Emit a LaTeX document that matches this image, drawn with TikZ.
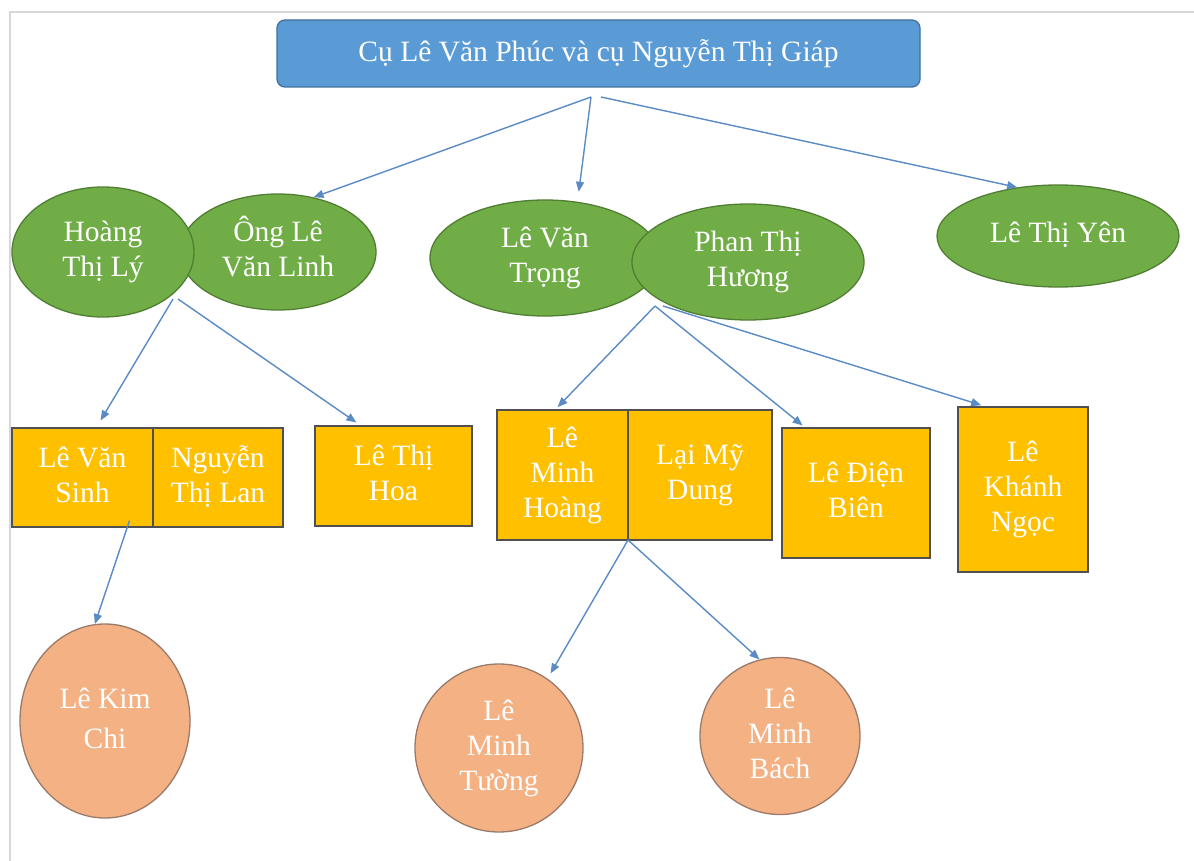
\documentclass[tikz,border=0pt]{standalone}
\usepackage{fontspec}
\setmainfont{Liberation Serif}
\usetikzlibrary{shapes.geometric,arrows.meta,calc}
\definecolor{tblue}{HTML}{5B9BD5}
\definecolor{tblueD}{HTML}{41719C}
\definecolor{tgreen}{HTML}{70AD47}
\definecolor{tgreenD}{HTML}{507E32}
\definecolor{tyellow}{HTML}{FFC000}
\definecolor{tyellowD}{HTML}{505050}
\definecolor{tsalmon}{HTML}{F4B183}
\definecolor{tsalmonD}{HTML}{9A7A6A}
\definecolor{tarrow}{HTML}{5A8BC5}
\definecolor{tframe}{HTML}{D8D8D8}
\newcommand\mytxt[2][0]{\raisebox{#1pt}{\begin{tabular}{@{}c@{}}#2\end{tabular}}}
\begin{document}
\begin{tikzpicture}[x=1pt,y=-1pt,
  every node/.style={font=\fontsize{29.5}{35}\selectfont, text=white, inner sep=0pt},
  titlebox/.style={draw=tblueD, fill=tblue, rounded corners=8pt, line width=1.3pt, minimum width=643pt, minimum height=67pt},
  couple/.style={ellipse, draw=tgreenD, fill=tgreen, line width=1.3pt},
  person/.style={rectangle, draw=tyellowD, fill=tyellow, line width=1.3pt},
  grandchild/.style={ellipse, draw=tsalmonD, fill=tsalmon, line width=1.3pt},
  arr/.style={draw=tarrow, line width=1.4pt, -{Triangle[length=10pt,width=8pt]}}
]
\useasboundingbox[fill=white] (0,0) rectangle (1194,861);
\draw[tframe, line width=1.5pt] (10,861) -- (10,12) -- (1194,12);

% title
\node[titlebox] (top) at (598.5,53.5) {Cụ Lê Văn Phúc và cụ Nguyễn Thị Giáp};

% generation 1 (green ellipses)
\node[couple, minimum width=196pt, minimum height=116pt] (linh) at (278,252) {\mytxt{Ông Lê\\Văn Linh}};
\node[couple, minimum width=182pt, minimum height=130pt] (hoang) at (103,252) {\mytxt{Hoàng\\Thị Lý}};
\node[couple, minimum width=230pt, minimum height=116pt] (trong) at (545,258) {\mytxt{Lê Văn\\Trọng}};
\node[couple, minimum width=232pt, minimum height=116pt] (huong) at (748,262) {\mytxt{Phan Thị\\Hương}};
\node[couple, minimum width=242pt, minimum height=102pt] (yen) at (1058,236) {\mytxt[8]{Lê Thị Yên}};

% generation 2 (yellow boxes)
\node[person, minimum width=141pt, minimum height=99pt] (sinh) at (82.5,477.5) {\mytxt[7]{Lê Văn\\Sinh}};
\node[person, minimum width=130pt, minimum height=99pt] (lan) at (218,477.5) {\mytxt[7]{Nguyễn\\Thị Lan}};
\node[person, minimum width=157pt, minimum height=100pt] (hoa) at (393.5,476) {\mytxt[6]{Lê Thị\\Hoa}};
\node[person, minimum width=131pt, minimum height=130pt] (mhoang) at (562.5,475) {\mytxt[3]{Lê\\Minh\\Hoàng}};
\node[person, minimum width=144pt, minimum height=130pt] (dung) at (700,475) {\mytxt[11]{Lại Mỹ\\Dung}};
\node[person, minimum width=148pt, minimum height=130pt] (dbien) at (856,493) {\mytxt[10]{Lê Điện\\Biên}};
\node[person, minimum width=130pt, minimum height=165pt] (kngoc) at (1023,489.5) {\mytxt[11]{Lê\\Khánh\\Ngọc}};

% generation 3 (salmon circles)
\node[grandchild, minimum width=170pt, minimum height=194pt] (kimchi) at (105,721) {\mytxt{Lê Kim\\[5pt]Chi}};
\node[grandchild, minimum width=168pt, minimum height=168pt] (tuong) at (499,748) {\mytxt[-7]{Lê\\Minh\\Tường}};
\node[grandchild, minimum width=160pt, minimum height=157pt] (bach) at (780,736) {\mytxt[-6]{Lê\\Minh\\Bách}};

% junction points
\coordinate (j0) at (591,97);
\coordinate (j1) at (173,299);
\coordinate (j2) at (655,306);
\coordinate (j3) at (628,540);

% connectors
\draw[arr] (j0) -- (linh.57);
\draw[arr, shorten >=10pt] (j0) -- (trong.60);
\draw[arr] ([xshift=10pt]j0) -- (yen.130);
\draw[arr, shorten >=8pt] (j1) -- ([xshift=14pt]sinh.north);
\draw[arr, shorten >=5pt] ([xshift=5pt]j1) -- ([xshift=-33pt]hoa.north);
\draw[arr, shorten >=3pt] (j2) -- ([xshift=-7pt]mhoang.north);
\draw[arr, shorten >=3pt] (j2) -- ([xshift=-51pt]dbien.north);
\draw[arr, shorten >=4pt] ([xshift=8pt]j2) -- ([xshift=-38pt]kngoc.north);
\draw[arr] ([xshift=47pt,yshift=7pt]sinh.south) -- (kimchi.96);
\draw[arr, shorten >=6pt] (j3) -- (tuong.55);
\draw[arr] (j3) -- (bach.105);
\end{tikzpicture}
\end{document}
